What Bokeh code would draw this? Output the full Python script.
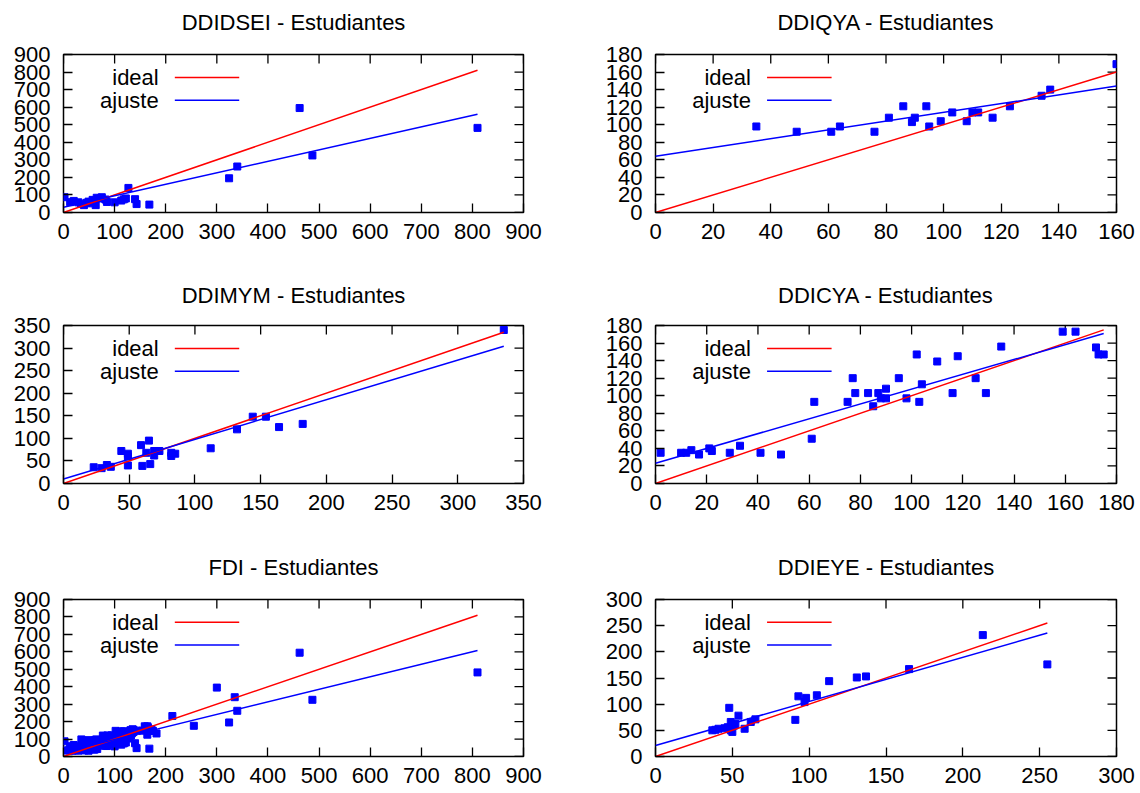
from bokeh.plotting import figure
from bokeh.layouts import column, row
from bokeh.models import Range1d, FixedTicker, LinearAxis, CustomLabelingPolicy
from bokeh.core.properties import value
from bokeh.embed import file_html
from bokeh.resources import INLINE

FONT = "Liberation Sans"

# ---------------- data ----------------
dsei_x = [2, 13, 20, 29, 34, 40, 45, 49, 53, 57, 63, 65, 72, 75, 82, 85, 100, 113, 118, 122, 127, 140, 143, 168, 324, 340, 462, 487, 810]
dsei_y = [87, 59, 66, 58, 50, 42, 55, 62, 52, 72, 42, 84, 80, 87, 74, 60, 58, 68, 75, 80, 140, 76, 48, 45, 195, 262, 595, 325, 482]

qya_x = [35, 49, 61, 64, 76, 81, 86, 89, 90, 94, 95, 99, 103, 108, 110, 112, 117, 123, 134, 137, 160]
qya_y = [98, 92, 92, 98, 92, 108, 121, 103, 108, 121, 98, 104, 114, 104, 114, 114, 108, 121, 133, 140, 169]

mym_x = [23, 29, 33, 36, 44, 49, 49, 49, 59, 60, 63, 65, 66, 69, 69, 73, 82, 82, 85, 112, 132, 144, 154, 164, 182, 335]
mym_y = [36, 34, 41, 37, 72, 66, 60, 40, 85, 39, 68, 95, 43, 62, 72, 72, 68, 61, 66, 78, 120, 148, 148, 125, 132, 340]

cya_x = [2, 10, 12, 14, 17, 21, 22, 29, 33, 41, 49, 61, 62, 75, 77, 78, 83, 85, 87, 88, 90, 90, 95, 98, 102, 103, 104, 110, 116, 118, 125, 129, 135, 159, 164, 172, 173, 175]
cya_y = [35, 35, 35, 38, 33, 40, 37, 35, 43, 35, 33, 51, 93, 93, 120, 103, 103, 88, 103, 97, 97, 108, 120, 97, 147, 93, 113, 139, 103, 145, 120, 103, 156, 173, 173, 155, 147, 147]

eye_x = [37, 39, 41, 45, 47, 48, 49, 49, 50, 51, 52, 54, 58, 62, 65, 91, 93, 97, 98, 105, 113, 131, 137, 165, 213, 255]
eye_y = [50, 51, 53, 54, 56, 93, 66, 50, 47, 59, 62, 78, 53, 66, 71, 70, 115, 104, 112, 117, 144, 151, 153, 167, 232, 176]

# FDI (whole faculty) = all departments plus one more student group
fdi_extra_x = [300]
fdi_extra_y = [395]
fdi_x = dsei_x + qya_x + mym_x + cya_x + eye_x + fdi_extra_x
fdi_y = dsei_y + qya_y + mym_y + cya_y + eye_y + fdi_extra_y

titles = ["DDIDSEI - Estudiantes", "DDIQYA - Estudiantes", "DDIMYM - Estudiantes",
          "DDICYA - Estudiantes", "FDI - Estudiantes", "DDIEYE - Estudiantes"]
x_max = [900, 160, 350, 180, 900, 300]
y_max = [900, 180, 350, 180, 900, 300]
x_step = [100, 20, 50, 20, 100, 50]
y_step = [100, 20, 50, 20, 100, 50]
# fitted line "ajuste": y = a + b*x
fit_a = [30, 64, 10, 23, 25, 21]
fit_b = [0.654, 0.50, 0.878, 0.845, 0.72, 0.843]
legend_labels = ["ideal", "ajuste"]

# ---------------- layout ----------------
col_w = [590, 550]
col_bl = [63, 65]
col_br = [67, 24]
row_h = [273, 272, 248]
row_bt = [54, 52, 54]
row_bb = [61, 62, 37]
title_gap = [15, 13, 15]   # empty space between title and frame (px)
TICK = 9

HIDE_LABELS = """
for (const i of indices) { indices.unset(i) }
return indices
"""


def style_axis(ax, standoff):
    ax.axis_line_color = None
    ax.major_tick_in = TICK
    ax.major_tick_out = 0
    ax.major_tick_line_color = "black"
    ax.major_tick_line_width = 1.3
    ax.minor_tick_line_color = None
    ax.major_label_text_font = FONT
    ax.major_label_text_font_size = "22px"
    ax.major_label_text_color = "black"
    ax.major_label_standoff = standoff


def make_panel(i, xs, ys, r, c):
    xm, ym = x_max[i], y_max[i]
    fw = col_w[c] - col_bl[c] - col_br[c]
    fh = row_h[r] - row_bt[r] - row_bb[r]
    p = figure(width=col_w[c], height=row_h[r],
               x_range=Range1d(0, xm), y_range=Range1d(0, ym),
               output_backend="svg", toolbar_location=None,
               min_border_left=col_bl[c], min_border_right=col_br[c],
               min_border_top=row_bt[r], min_border_bottom=row_bb[r],
               title=titles[i])
    p.title.text_font = FONT
    p.title.text_font_size = "22px"
    p.title.text_font_style = "normal"
    p.title.text_color = "black"
    p.title.align = "center"
    p.title.standoff = 2
    p.grid.visible = False
    p.outline_line_color = "black"
    p.outline_line_width = 1.5
    p.outline_line_alpha = 1.0

    xticks = list(range(0, xm + 1, x_step[i]))
    yticks = list(range(0, ym + 1, y_step[i]))
    xax = p.below[0]
    yax = p.left[0]
    xax.ticker = FixedTicker(ticks=xticks)
    yax.ticker = FixedTicker(ticks=yticks)
    style_axis(xax, 11)
    style_axis(yax, 13)

    # invisible spacer between the title and the frame (no lines, no labels drawn)
    spacer = LinearAxis(ticker=FixedTicker(ticks=xticks), axis_line_color=None,
                        major_tick_out=title_gap[r], major_tick_in=0,
                        major_tick_line_color=None, minor_tick_line_color=None,
                        major_label_standoff=0, major_label_text_font_size="1px",
                        major_label_policy=CustomLabelingPolicy(code=HIDE_LABELS))
    p.add_layout(spacer, "above")

    # mirrored inward ticks on the top and right edges (gnuplot style)
    dy = TICK * ym / fh
    dx = TICK * xm / fw
    p.segment(x0=xticks, y0=[ym] * len(xticks), x1=xticks, y1=[ym - dy] * len(xticks),
              line_color="black", line_width=1.3)
    p.segment(x0=[xm] * len(yticks), y0=yticks, x1=[xm - dx] * len(yticks), y1=yticks,
              line_color="black", line_width=1.3)

    # data points
    p.scatter(xs, ys, marker="square", size=7, color="#0000ff", line_color="#0000ff")

    # ideal and fitted lines from 0 to the largest x
    xmax_d = max(xs)
    p.line([0, xmax_d], [0, xmax_d], line_color="#ff0000", line_width=1.5)
    a, b = fit_a[i], fit_b[i]
    p.line([0, xmax_d], [a, a + b * xmax_d], line_color="#0000ff", line_width=1.5)

    # key (top-left, text then sample line, gnuplot style)
    key_rows = [0.855, 0.71]
    colors = ["#ff0000", "#0000ff"]
    for lab, fy, col in zip(legend_labels, key_rows, colors):
        p.text(x=[0.207 * xm], y=[fy * ym], text=[lab],
               text_align="right", text_baseline="middle",
               text_font=value(FONT), text_font_size="22px", text_color="black")
        p.line([0.242 * xm, 0.382 * xm], [fy * ym, fy * ym], line_color=col, line_width=1.5)
    return p


panels = [
    make_panel(0, dsei_x, dsei_y, 0, 0),
    make_panel(1, qya_x, qya_y, 0, 1),
    make_panel(2, mym_x, mym_y, 1, 0),
    make_panel(3, cya_x, cya_y, 1, 1),
    make_panel(4, fdi_x, fdi_y, 2, 0),
    make_panel(5, eye_x, eye_y, 2, 1),
]

layout = column(row(panels[0], panels[1]), row(panels[2], panels[3]), row(panels[4], panels[5]))

open("out.html", "w").write(file_html(layout, INLINE))
